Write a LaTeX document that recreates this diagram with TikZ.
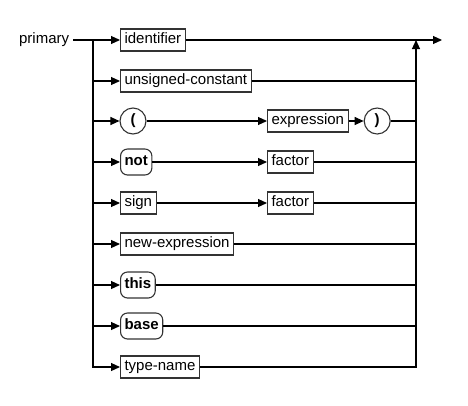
\documentclass[tikz,border=0pt]{standalone}
\usepackage{fontspec}
\setmainfont{Liberation Sans}
\usetikzlibrary{arrows.meta,positioning}

\begin{document}
\begin{tikzpicture}[
    x=1pt, y=-1pt,
    font=\fontsize{15}{18}\selectfont,
    line width=1.1pt,
    nonterm/.style={draw=black!80, anchor=west, minimum height=22pt, inner xsep=4pt, inner ysep=0pt, text height=11pt, text depth=3.5pt},
    term/.style={nonterm, rounded corners=7pt, minimum height=26pt, font=\fontsize{15}{18}\selectfont\bfseries},
    paren/.style={circle, draw=black!80, minimum size=26pt, inner sep=0pt, font=\fontsize{15}{18}\selectfont\bfseries},
    arr/.style={-{Triangle[length=9pt,width=8pt]}}
]
  \useasboundingbox (0,0) rectangle (468,405);

  \node[anchor=east] (prim) at (73,40) {primary};
  \coordinate (split) at (93,40);
  \coordinate (join) at (416,40);
  \coordinate (out) at (442,40);

  % alternatives, top to bottom
  \node[nonterm] (ident) at (120,40) {identifier};
  \node[nonterm] (unsig) at (120,81) {unsigned-constant};
  \node[paren] (lpar) at (133,121) {(};
  \node[nonterm] (expr) at (267,121) {expression};
  \node[paren, right=15pt of expr] (rpar) {)};
  \node[term] (not) at (120,162) {not};
  \node[nonterm] (fact1) at (267,162) {factor};
  \node[nonterm] (sign) at (120,203) {sign};
  \node[nonterm] (fact2) at (267,203) {factor};
  \node[nonterm] (newexp) at (120,244) {new-expression};
  \node[term] (this) at (120,285) {this};
  \node[term] (base) at (120,326) {base};
  \node[nonterm] (tname) at (120,367) {type-name};

  \draw (prim) -- (split);
  \draw[arr] (split) -- (ident);
  \draw[arr] (ident) -- (out);
  \draw[arr] (split) |- (tname.west);
  \draw[arr] (tname.east) -| (join);

  \foreach \n in {unsig, lpar, not, sign, newexp, this, base}
    \draw[arr] (split |- \n.west) -- (\n.west);
  \foreach \n in {unsig, rpar, fact1, fact2, newexp, this, base}
    \draw (\n.east) -- (join |- \n.east);

  \draw[arr] (lpar) -- (expr);
  \draw[arr] (expr) -- (rpar);
  \draw[arr] (not) -- (fact1);
  \draw[arr] (sign) -- (fact2);
\end{tikzpicture}
\end{document}
